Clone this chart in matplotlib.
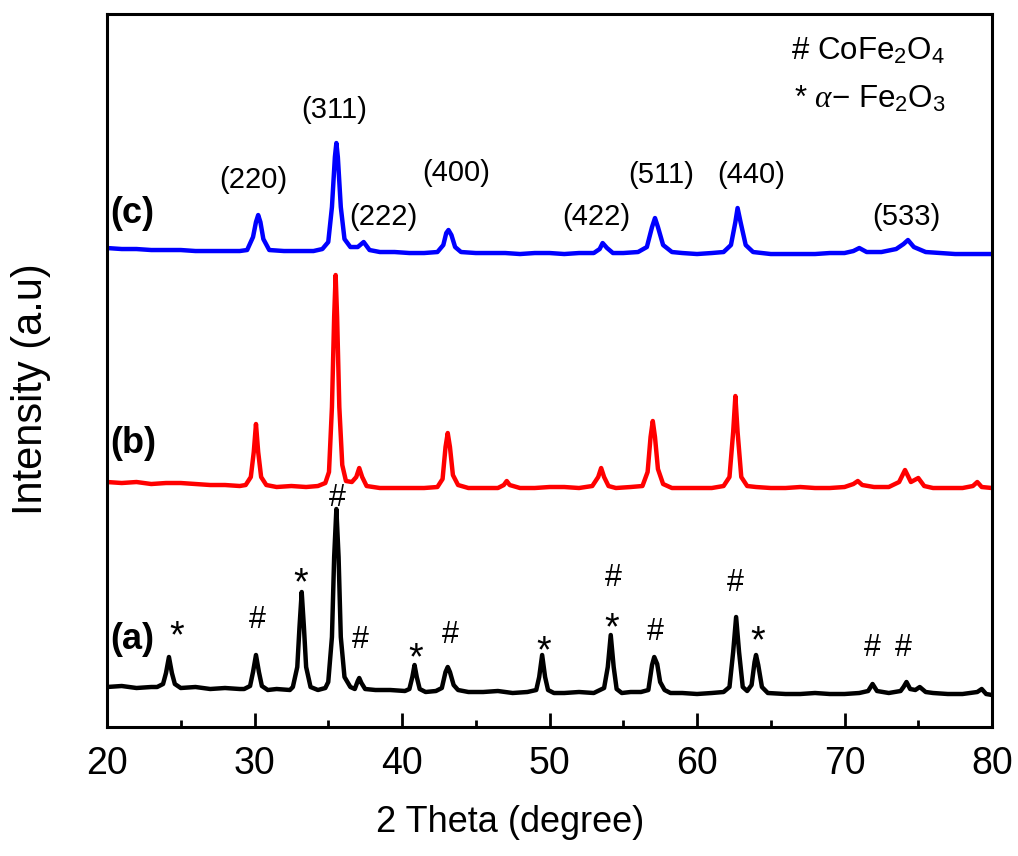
import matplotlib
matplotlib.use("Agg")
import matplotlib.pyplot as plt
from matplotlib.ticker import MultipleLocator

plt.rcParams['font.family'] = ['Liberation Sans', 'DejaVu Sans']
plt.rcParams['mathtext.fontset'] = 'custom'
plt.rcParams['mathtext.rm'] = 'Liberation Sans'
plt.rcParams['mathtext.it'] = 'Liberation Serif:italic'

# ---------------- data ----------------
# curve (a): black, CoFe2O4 + alpha-Fe2O3
a_x = [20.0, 21.0, 22.0, 23.0, 23.4, 23.8, 24.0, 24.2, 24.4, 24.6, 25.0,
       26.0, 27.0, 28.0, 29.0, 29.3, 29.7, 29.9, 30.1, 30.3, 30.5, 30.9,
       31.5, 32.4, 32.6, 32.9, 33.05, 33.2, 33.35, 33.5, 33.8, 34.3, 34.8,
       35.0, 35.25, 35.4, 35.55, 35.7, 35.85, 36.1, 36.5, 36.8, 37.0, 37.1,
       37.25, 37.5, 38.2, 39.2, 40.2, 40.5, 40.7, 40.85, 41.0, 41.2, 41.6,
       42.3, 42.7, 42.95, 43.1, 43.25, 43.5, 43.8, 44.5, 45.5, 46.5, 47.5,
       48.5, 49.1, 49.3, 49.5, 49.7, 49.9, 50.3, 51.0, 52.0, 53.0, 53.7,
       53.95, 54.15, 54.35, 54.55, 54.9, 55.5, 56.2, 56.7, 56.95, 57.1,
       57.3, 57.5, 57.8, 58.2, 59.0, 60.0, 61.0, 61.8, 62.2, 62.45, 62.65,
       62.85, 63.1, 63.4, 63.7, 63.9, 64.0, 64.15, 64.4, 64.8, 66.0, 67.0,
       68.0, 69.0, 70.0, 71.0, 71.6, 71.9, 72.2, 73.0, 73.8, 74.0, 74.2,
       74.45, 74.8, 75.1, 75.5, 76.0, 77.0, 78.0, 79.0, 79.3, 79.6, 80.0]
a_y = [40, 41, 39, 40, 40, 43, 54, 70, 54, 43, 39,
       40, 38, 39, 38, 38, 41, 55, 72, 55, 41, 37,
       38, 37, 40, 60, 100, 135, 100, 60, 40, 37, 39,
       45, 90, 170, 218, 170, 90, 50, 40, 38, 46, 49,
       44, 38, 37, 37, 36, 38, 50, 62, 50, 38, 35,
       36, 39, 55, 60, 55, 42, 37, 35, 35, 36, 34,
       35, 37, 50, 72, 50, 37, 34, 34, 35, 34, 39,
       60, 92, 60, 38, 34, 35, 35, 37, 62, 70,
       63, 45, 37, 34, 34, 33, 34, 35, 40, 75, 110,
       75, 40, 36, 42, 65, 72, 62, 40, 34, 33, 33,
       34, 33, 33, 34, 36, 43, 36, 34, 36, 40, 45,
       38, 37, 40, 35, 34, 33, 33, 35, 38, 33, 32]

# curve (b): red
b_x = [20.0, 21.0, 22.0, 23.0, 24.0, 25.0, 26.0, 27.0, 28.0, 29.0, 29.4,
       29.75, 29.95, 30.1, 30.25, 30.45, 30.8, 31.5, 32.5, 33.5, 34.3, 34.8,
       35.05, 35.25, 35.4, 35.5, 35.6, 35.75, 35.95, 36.2, 36.6, 36.9, 37.1,
       37.3, 37.6, 38.5, 39.5, 40.5, 41.5, 42.4, 42.75, 42.95, 43.1, 43.25,
       43.45, 43.8, 44.5, 45.5, 46.5, 46.9, 47.1, 47.3, 48.0, 49.0, 50.0,
       51.0, 52.0, 52.9, 53.3, 53.5, 53.7, 54.0, 54.5, 55.5, 56.3, 56.65,
       56.85, 57.0, 57.15, 57.35, 57.7, 58.3, 59.0, 60.0, 61.0, 61.8, 62.2,
       62.45, 62.6, 62.75, 63.0, 63.4, 64.0, 65.0, 66.0, 67.0, 68.0, 69.0,
       70.0, 70.6, 70.9, 71.2, 72.0, 73.0, 73.7, 74.1, 74.5, 75.0, 75.4,
       76.0, 77.0, 78.0, 78.7, 79.0, 79.3, 80.0]
b_y = [245, 244, 245, 243, 244, 244, 243, 242, 242, 241, 242,
       250, 275, 303, 275, 250, 242, 240, 241, 240, 241, 244,
       255, 320, 410, 452, 410, 320, 262, 246, 245, 250, 259,
       250, 241, 239, 239, 239, 239, 240, 248, 280, 294, 280,
       252, 242, 239, 239, 239, 242, 246, 242, 239, 239, 240,
       240, 239, 241, 250, 259, 250, 241, 239, 240, 241, 255,
       290, 306, 290, 258, 243, 239, 239, 239, 239, 241, 250,
       295, 331, 295, 250, 241, 240, 239, 239, 240, 239, 239,
       240, 243, 246, 242, 240, 240, 245, 257, 245, 249, 241,
       239, 239, 239, 241, 245, 240, 239]

# curve (c): blue
c_x = [20.0, 21.0, 22.0, 23.0, 24.0, 25.0, 26.0, 27.0, 28.0, 29.0, 29.5,
       29.9, 30.1, 30.25, 30.4, 30.6, 31.0, 32.0, 33.0, 34.0, 34.6, 35.0,
       35.25, 35.45, 35.55, 35.65, 35.85, 36.1, 36.5, 37.0, 37.4, 37.8,
       38.5, 39.5, 40.5, 41.5, 42.4, 42.8, 43.0, 43.15, 43.35, 43.6, 44.0,
       45.0, 46.0, 47.0, 48.0, 49.0, 50.0, 51.0, 52.0, 53.0, 53.4, 53.6,
       53.9, 54.3, 55.0, 56.0, 56.6, 56.95, 57.15, 57.35, 57.7, 58.3, 59.0,
       60.0, 61.0, 61.8, 62.3, 62.6, 62.75, 62.95, 63.3, 63.8, 65.0, 66.0,
       67.0, 68.0, 69.0, 70.0, 70.6, 71.0, 71.5, 72.5, 73.5, 74.0, 74.3,
       74.7, 75.5, 76.5, 77.5, 78.5, 79.5, 80.0]
c_y = [479, 478, 478, 477, 477, 477, 476, 476, 476, 476, 477,
       490, 505, 512, 505, 488, 477, 476, 476, 476, 478, 485,
       520, 570, 584, 570, 520, 488, 480, 480, 485, 477,
       475, 475, 474, 474, 475, 482, 494, 497, 492, 480, 475,
       474, 474, 474, 473, 474, 474, 473, 474, 474, 478, 484,
       479, 474, 474, 475, 480, 500, 509, 500, 482, 475, 474,
       473, 474, 475, 482, 505, 519, 505, 482, 475, 473, 473,
       473, 473, 474, 474, 476, 479, 475, 475, 478, 483, 487,
       480, 475, 474, 473, 473, 473, 473]

curve_labels = ['(a)', '(b)', '(c)']
curve_colors = ['black', 'red', 'blue']
label_y = [88, 284, 514]

# Miller indices for curve (c)
hkl_text = ['(220)', '(311)', '(222)', '(400)', '(422)', '(511)', '(440)', '(533)']
hkl_x = [29.95, 35.4, 38.75, 43.7, 53.2, 57.6, 63.7, 74.2]
hkl_y = [547, 617, 510, 554, 510, 552, 552, 510]

# phase markers for curve (a)
mark_text = ['*', '#', '*', '#', '#', '*', '#', '*', '#', '*', '#', '#', '*', '#', '#']
mark_x = [24.7, 30.2, 33.1, 35.6, 37.2, 40.9, 43.3, 49.6, 54.3, 54.2, 57.15, 62.6, 64.1, 71.9, 74.0]
mark_y = [97, 107, 150, 229, 87, 75, 92, 82, 149, 105, 95, 144, 92, 79, 79]

# ---------------- figure ----------------
fig = plt.figure(figsize=(10.18, 8.56), dpi=100)
ax = fig.add_axes([0.1051, 0.1507, 0.8694, 0.8329])

for xs, ys, col in zip([a_x, b_x, c_x], [a_y, b_y, c_y], curve_colors):
    ax.plot(xs, ys, color=col, lw=3.2, solid_joinstyle='round')

ax.set_xlim(20, 80)
ax.set_ylim(0, 713)
ax.xaxis.set_major_locator(MultipleLocator(10))
ax.xaxis.set_minor_locator(MultipleLocator(5))
ax.tick_params(axis='x', which='both', direction='in', top=False, bottom=True,
               labelsize=27, pad=14, width=2)
ax.tick_params(axis='x', which='major', length=10)
ax.tick_params(axis='x', which='minor', length=5)
ax.tick_params(axis='y', left=False, labelleft=False)
for sp in ax.spines.values():
    sp.set_linewidth(2.2)

fig.text(510 / 1018, 1 - 822 / 856, '2 Theta (degree)', fontsize=26,
         ha='center', va='center')
fig.text(31 / 1018, 1 - 389 / 856, 'Intensity (a.u)', fontsize=30,
         ha='center', va='center', rotation=90)

for lab, yy in zip(curve_labels, label_y):
    ax.text(20.25, yy, lab, fontsize=26, fontweight='bold', ha='left', va='center')

for t, xx, yy in zip(hkl_text, hkl_x, hkl_y):
    ax.text(xx, yy, t, fontsize=21, ha='center', va='center')

for t, xx, yy in zip(mark_text, mark_x, mark_y):
    if t == '*':
        ax.text(xx, yy - 7, t, fontsize=27, ha='center', va='center')
    else:
        ax.text(xx, yy, t, fontsize=22, ha='center', va='center')

ax.text(66.4, 676, r'# CoFe$_2$O$_4$', fontsize=22.5, ha='left', va='center')
ax.text(66.6, 628, r'* $\mathit{\alpha}$$-$ Fe$_2$O$_3$', fontsize=22.5, ha='left', va='center')

fig.savefig('out.png', dpi=100)
